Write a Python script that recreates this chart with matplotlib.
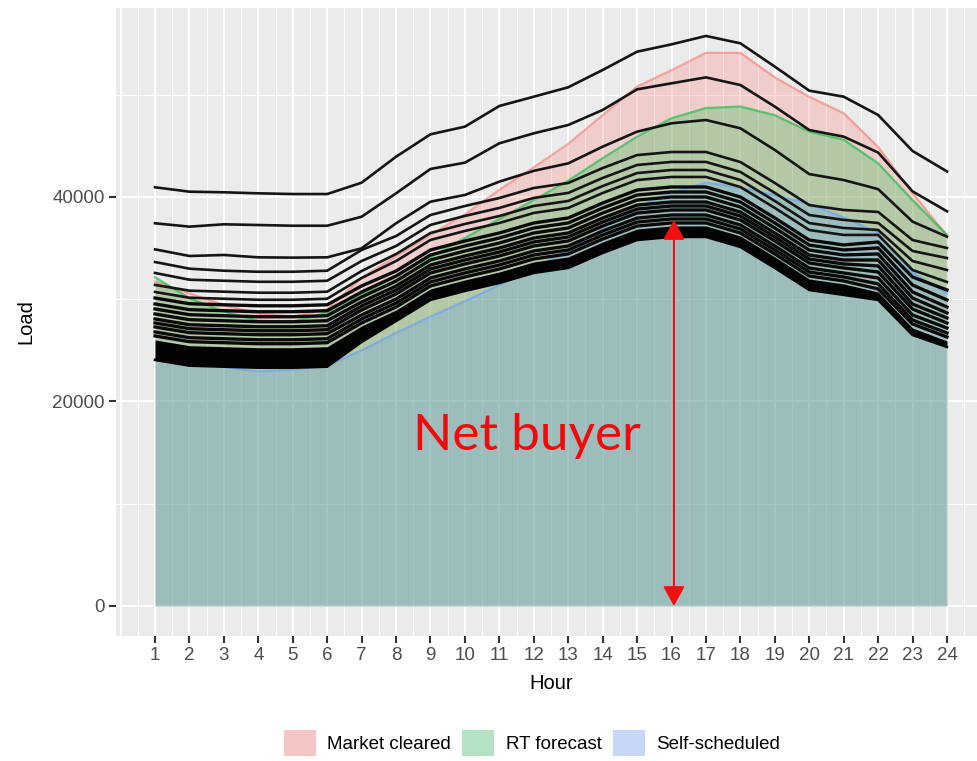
import matplotlib
matplotlib.use("Agg")
import matplotlib.pyplot as plt
from matplotlib.patches import Patch
import numpy as np

plt.rcParams["font.family"] = ["Liberation Sans", "DejaVu Sans"]

hours = list(range(1, 25))

market_cleared = [31720, 30580, 29440, 28630, 28300, 29020, 32100, 34200, 36300, 38300, 40700, 42900,
                  45200, 48000, 50800, 52400, 54100, 54100, 51700, 49800, 48200, 44900, 40400, 36200]
rt_forecast = [32150, 30100, 28800, 27900, 27800, 28700, 30450, 32300, 34130, 36000, 37850, 39700,
               41600, 43790, 45900, 47700, 48700, 48850, 48000, 46400, 45600, 43300, 39700, 36300]
self_scheduled = [24200, 23800, 23400, 22950, 23100, 23500, 25000, 26700, 28300, 29800, 31400, 33000,
                  34800, 36900, 39000, 40400, 41400, 40900, 40200, 39300, 38000, 36500, 32600, 30600]

# scenario (black) lines, from highest to lowest
line_01 = [40950, 40520, 40460, 40360, 40290, 40290, 41400, 43940, 46130, 46880, 48900, 49810,
           50730, 52420, 54210, 54930, 55750, 55030, 52750, 50400, 49810, 48020, 44500, 42500]
line_02 = [37430, 37100, 37330, 37260, 37190, 37190, 38070, 40360, 42740, 43360, 45250, 46230,
           47040, 48510, 50530, 51120, 51700, 50950, 48840, 46550, 45900, 44350, 40550, 38600]
line_03 = [34880, 34230, 34330, 34100, 34070, 34100, 34980, 37430, 39540, 40200, 41500, 42560,
           43290, 44920, 46390, 47210, 47530, 46720, 44600, 42240, 41660, 40770, 37590, 36120]
line_04 = [33640, 32990, 32790, 32690, 32690, 32790, 34820, 36180, 38240, 39120, 39900, 40880,
           41370, 42830, 44100, 44400, 44400, 43420, 41370, 39210, 38730, 38540, 35790, 35010]
line_05 = [32570, 31910, 31810, 31710, 31710, 31810, 33740, 35210, 37270, 38150, 38930, 39910,
           40400, 41860, 43130, 43430, 43430, 42450, 40400, 38240, 37760, 37460, 34720, 34030]
line_06 = [31400, 30840, 30740, 30640, 30640, 30740, 32760, 34420, 36480, 37360, 38140, 39120,
           39610, 41070, 42340, 42640, 42640, 41660, 39610, 37450, 36970, 36780, 33740, 32860]
line_07 = [30710, 30150, 30050, 29950, 29950, 30050, 32080, 33740, 35800, 36680, 37460, 38440,
           38930, 40390, 41660, 41960, 41960, 40980, 38930, 36770, 36290, 36290, 32860, 31690]
line_08 = [30120, 29560, 29460, 29360, 29360, 29460, 31300, 32760, 34820, 35700, 36480, 37460,
           37950, 39410, 40680, 40980, 40980, 40000, 37950, 35790, 35310, 35600, 32170, 30910]
line_09 = [29540, 28980, 28880, 28780, 28780, 28880, 30710, 32270, 34330, 35210, 35990, 36970,
           37460, 38920, 40190, 40490, 40490, 39510, 37460, 35300, 34820, 35020, 31390, 29930]
line_10 = [29050, 28490, 28390, 28290, 28290, 28390, 30220, 31780, 33840, 34720, 35500, 36480,
           36970, 38430, 39700, 40000, 40000, 39020, 36970, 34810, 34330, 34430, 30710, 29240]
line_11 = [28560, 28000, 27900, 27800, 27800, 27900, 29730, 31290, 33350, 34230, 35010, 35990,
           36480, 37940, 39210, 39510, 39510, 38530, 36480, 34320, 33840, 33840, 30120, 28660]
line_12 = [28070, 27510, 27410, 27310, 27310, 27410, 29340, 30900, 32960, 33840, 34620, 35600,
           36090, 37550, 38820, 39120, 39120, 38140, 36090, 33930, 33450, 33260, 29530, 28170]
line_13 = [27680, 27120, 27020, 26920, 26920, 27020, 28950, 30510, 32570, 33450, 34230, 35210,
           35700, 37160, 38430, 38730, 38730, 37750, 35700, 33540, 33060, 32670, 29040, 27680]
line_14 = [27290, 26730, 26630, 26530, 26530, 26630, 28460, 30020, 32080, 32960, 33740, 34720,
           35210, 36670, 37940, 38240, 38240, 37260, 35210, 33050, 32570, 32080, 28460, 27190]
line_15 = [26800, 26240, 26140, 26040, 26040, 26140, 28070, 29630, 31690, 32570, 33350, 34330,
           34820, 36280, 37550, 37850, 37850, 36870, 34820, 32660, 32180, 31500, 27970, 26700]
line_16 = [26410, 25850, 25750, 25650, 25650, 25750, 27680, 29240, 31300, 32180, 32960, 33940,
           34430, 35890, 37160, 37460, 37460, 36480, 34430, 32270, 31790, 31010, 27580, 26310]
# densely packed lowest scenarios (drawn as a solid black band)
band_top = [26020, 25460, 25360, 25260, 25260, 25360, 27390, 28950, 31010, 31890, 32670, 33650,
            34140, 35600, 36870, 37170, 37170, 36190, 34140, 31980, 31500, 30710, 27190, 25920]
band_bottom = [24060, 23500, 23400, 23300, 23300, 23400, 25820, 27870, 29930, 30810, 31590, 32570,
               33060, 34520, 35790, 36090, 36090, 35110, 33060, 30900, 30420, 29930, 26500, 25330]

top_lines = [line_01, line_02, line_03, line_04, line_05, line_06, line_07]
dense_lines = [line_08, line_09, line_10, line_11, line_12, line_13, line_14, line_15, line_16]

series_names = ["Market cleared", "RT forecast", "Self-scheduled"]
series_colors = ["#F8766D", "#00BA38", "#619CFF"]
legend_colors = ["#F5C6C3", "#B3E3C3", "#C6D7F7"]

arrow_hour = 16.07
arrow_top = 37750
arrow_bottom = 0

fig = plt.figure(figsize=(9.77, 7.61), dpi=100)
ax = fig.add_axes([116 / 977, 125 / 761, 870 / 977, 628 / 761])
ax.set_facecolor("#EBEBEB")
for s in ax.spines.values():
    s.set_visible(False)

ax.set_xlim(-0.133, 25.133)
ax.set_ylim(-2934, 58484)
ax.set_xticks(hours)
ax.set_xticks(np.arange(0.5, 25.0, 1.0), minor=True)
ax.set_yticks([0, 20000, 40000])
ax.set_yticks([10000, 30000, 50000], minor=True)
ax.grid(which="major", color="white", lw=1.3)
ax.grid(which="minor", color="white", lw=0.7)
ax.axvline(0, color="white", lw=1.3, zorder=0.5)
ax.set_axisbelow(True)
ax.tick_params(which="major", length=5, width=1.5, color="#333333",
               labelcolor="#4D4D4D", labelsize=13.5, pad=3)
ax.tick_params(which="minor", length=0)

for vals, c in zip([market_cleared, rt_forecast, self_scheduled], series_colors):
    ax.fill_between(hours, 0, vals, color=c, alpha=0.25, lw=0, zorder=2)
    ax.plot(hours, vals, color=c, alpha=0.6, lw=1.6, zorder=2.1)

ax.fill_between(hours, band_bottom, band_top, color="#030303", lw=0, zorder=3)
ax.plot(hours, band_bottom, color="#030303", lw=1.8, zorder=3)
for ln in dense_lines:
    ax.plot(hours, ln, color="#0a0a0a", lw=2.4, zorder=3.1)
for ln in top_lines:
    ax.plot(hours, ln, color="#151515", lw=1.9, zorder=3.2)

ax.annotate("", xy=(arrow_hour, arrow_bottom), xytext=(arrow_hour, arrow_top),
            arrowprops=dict(arrowstyle="<|-|>,head_length=0.6,head_width=0.33",
                            color="#F01010", lw=1.5, shrinkA=0, shrinkB=0,
                            mutation_scale=20), zorder=5)
ax.text(8.49, 15260, "Net buyer", color="#F00A0A", fontsize=37, family="Lato",
        ha="left", va="baseline", zorder=5)

ax.set_xlabel("Hour", fontsize=14.5, color="black", labelpad=7)
ax.set_ylabel("Load", fontsize=14.5, color="black", labelpad=12)

handles = [Patch(facecolor=c, edgecolor="none") for c in legend_colors]
fig.legend(handles, series_names, loc="center", bbox_to_anchor=(532 / 977, 18 / 761),
           ncol=3, frameon=False, fontsize=13.5, handlelength=1.7, handleheight=1.7,
           handletextpad=0.6, columnspacing=0.6)

fig.savefig("out.png", dpi=100)
